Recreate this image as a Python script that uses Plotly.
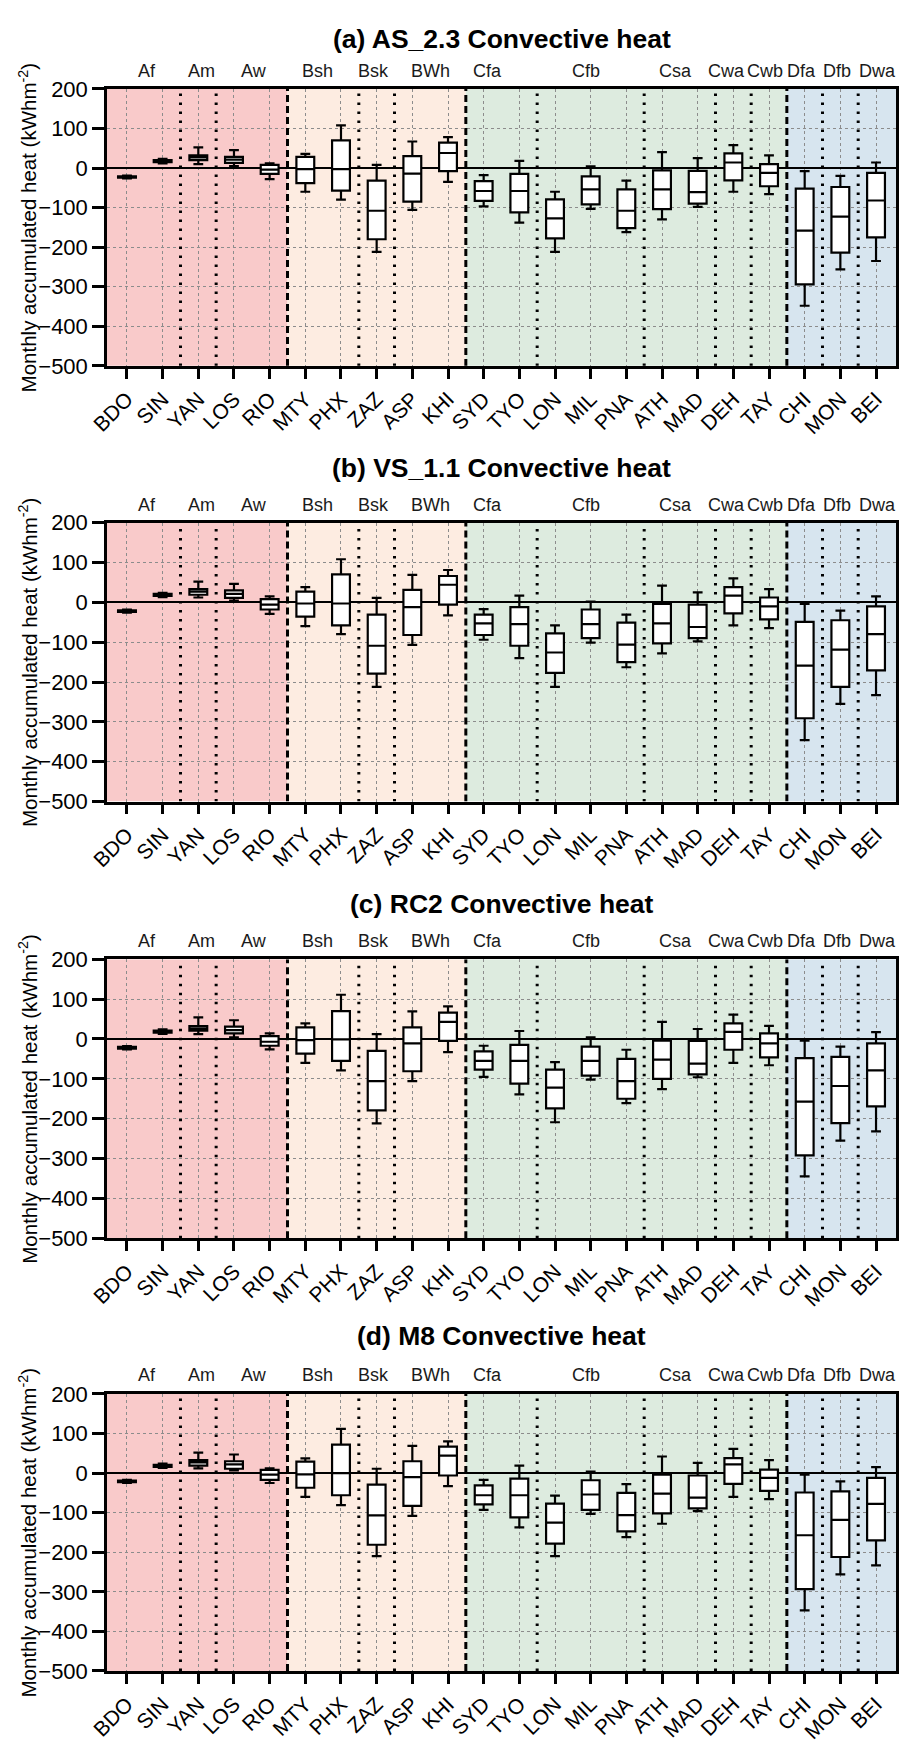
import plotly.graph_objects as go

cities = ["BDO", "SIN", "YAN", "LOS", "RIO", "MTY", "PHX", "ZAZ", "ASP", "KHI", "SYD",
          "TYO", "LON", "MIL", "PNA", "ATH", "MAD", "DEH", "TAY", "CHI", "MON", "BEI"]

panel_titles = ["(a) AS_2.3 Convective heat", "(b) VS_1.1 Convective heat",
                "(c) RC2 Convective heat", "(d) M8 Convective heat"]

climate_labels = ["Af", "Am", "Aw", "Bsh", "Bsk", "BWh", "Cfa", "Cfb", "Csa", "Cwa", "Cwb", "Dfa", "Dfb", "Dwa"]
climate_label_pos = [0.56, 2.1, 3.56, 5.33, 6.92, 8.5, 10.12, 12.87, 15.39, 16.82, 17.89, 18.92, 19.9, 21.03]

zone_bounds = [-0.56, 4.5, 9.5, 18.5, 21.56]
zone_colors = ["#F9CACA", "#FDECE1", "#DDEBDF", "#D7E5EF"]
subgroup_dividers = [1.5, 2.5, 6.5, 7.5, 11.5, 14.5, 16.5, 17.5, 19.5, 20.5]

y_ticks = [200, 100, 0, -100, -200, -300, -400, -500]
y_min, y_max = -500, 200

# ---- panel (a) AS_2.3
a_low = [-26, 12, 10, 5, -28, -60, -80, -212, -106, -35, -97, -138, -212, -103, -162, -130, -98, -60, -66, -348, -256, -235]
a_q1 = [-24, 15, 20, 13, -15, -38, -57, -180, -85, -8, -83, -112, -178, -92, -152, -104, -90, -31, -46, -294, -214, -175]
a_med = [-22, 18, 27, 21, -4, -3, -3, -108, -14, 38, -58, -58, -127, -54, -108, -54, -61, 14, -12, -158, -123, -82]
a_q3 = [-21, 20, 32, 28, 8, 28, 70, -32, 30, 64, -33, -15, -79, -21, -54, -6, -7, 37, 10, -52, -48, -12]
a_high = [-19, 23, 52, 45, 12, 36, 108, 8, 67, 78, -18, 18, -60, 4, -32, 40, 25, 58, 32, -8, -20, 14]

# ---- panel (b) VS_1.1
b_low = [-26, 13, 12, 4, -29, -60, -80, -212, -107, -33, -94, -140, -212, -101, -163, -128, -98, -58, -65, -346, -255, -233]
b_q1 = [-24, 16, 19, 11, -18, -36, -58, -179, -82, -6, -82, -109, -177, -90, -150, -103, -90, -28, -43, -291, -212, -171]
b_med = [-22, 19, 27, 21, -6, -3, -3, -109, -12, 44, -53, -55, -126, -55, -106, -53, -62, 17, -10, -159, -119, -80]
b_q3 = [-20, 21, 33, 30, 8, 27, 70, -31, 31, 66, -31, -12, -78, -18, -51, -4, -6, 38, 12, -49, -45, -10]
b_high = [-18, 24, 52, 46, 15, 38, 108, 11, 69, 81, -17, 17, -58, 2, -31, 42, 25, 60, 33, -4, -21, 15]

# ---- panel (c) RC2
c_low = [-26, 13, 12, 4, -26, -60, -79, -212, -106, -33, -95, -139, -209, -102, -161, -126, -96, -60, -66, -345, -255, -232]
c_q1 = [-24, 16, 21, 14, -17, -37, -55, -179, -81, -5, -77, -112, -174, -92, -150, -100, -89, -27, -46, -292, -211, -169]
c_med = [-22, 18, 26, 22, -7, -3, -1, -106, -11, 43, -55, -55, -122, -55, -106, -52, -62, 18, -11, -157, -118, -79]
c_q3 = [-20, 21, 32, 31, 7, 29, 70, -30, 29, 66, -31, -15, -77, -19, -50, -4, -5, 39, 14, -48, -45, -11]
c_high = [-18, 24, 54, 47, 14, 39, 111, 12, 69, 82, -17, 20, -58, 4, -27, 43, 25, 61, 33, -4, -19, 17]

# ---- panel (d) M8
d_low = [-25, 13, 12, 7, -25, -60, -81, -210, -108, -33, -93, -137, -210, -103, -162, -128, -96, -60, -66, -347, -256, -233]
d_q1 = [-23, 16, 19, 11, -17, -37, -56, -181, -83, -6, -79, -112, -178, -93, -147, -102, -89, -27, -45, -293, -212, -170]
d_med = [-21, 19, 27, 22, -4, -3, 0, -107, -10, 44, -56, -56, -125, -54, -106, -52, -62, 22, -12, -157, -118, -78]
d_q3 = [-19, 21, 33, 30, 8, 29, 72, -29, 30, 67, -31, -14, -77, -18, -50, -4, -6, 38, 9, -49, -46, -12]
d_high = [-17, 24, 52, 47, 12, 37, 112, 11, 69, 80, -17, 19, -57, 4, -28, 42, 26, 61, 33, -4, -21, 15]

panels = [
    (a_low, a_q1, a_med, a_q3, a_high),
    (b_low, b_q1, b_med, b_q3, b_high),
    (c_low, c_q1, c_med, c_q3, c_high),
    (d_low, d_q1, d_med, d_q3, d_high),
]

W, H = 901, 1750
# pixel layout of each panel: (plot top, plot bottom, title y, climate label y)
panel_px = [(78, 359, 27, 60), (518, 801, 463, 500), (961, 1244, 905, 942), (1402, 1683, 1343, 1383)]

FONT = "Liberation Sans, Arial, Helvetica, sans-serif"

fig = go.Figure()
layout = dict(
    width=W, height=H,
    margin=dict(l=107, r=5, t=0, b=0),
    paper_bgcolor="white", plot_bgcolor="white",
    showlegend=False,
    font=dict(family=FONT, color="black"),
)
shapes = []
annotations = []


def py(px):
    return 1 - px / H


for i, (low, q1, med, q3, high) in enumerate(panels):
    n = "" if i == 0 else str(i + 1)
    xa, ya = "x" + n, "y" + n
    top, bot, ty, ly = panel_px[i]
    fig.add_trace(go.Box(
        x=cities, q1=q1, median=med, q3=q3, lowerfence=low, upperfence=high,
        xaxis=xa, yaxis=ya, width=0.5, whiskerwidth=0.55,
        fillcolor="white", line=dict(color="black", width=2.2),
        boxpoints=False, hoverinfo="skip",
    ))
    layout["xaxis" + n] = dict(
        domain=[0, 1], anchor=ya, type="category",
        categoryorder="array", categoryarray=cities,
        range=[zone_bounds[0], zone_bounds[-1]],
        showline=True, mirror=True, linecolor="black", linewidth=2.5,
        ticks="outside", ticklen=10, tickwidth=2.5, tickcolor="black",
        tickangle=-45, tickfont=dict(size=21, family=FONT, color="black"),
        showgrid=True, gridcolor="#8c8c8c", gridwidth=1, griddash="dot",
        zeroline=False,
    )
    layout["yaxis" + n] = dict(
        domain=[py(bot), py(top)], anchor=xa,
        range=[y_min, y_max], tickvals=y_ticks,
        showline=True, mirror=True, linecolor="black", linewidth=2.5,
        ticks="outside", ticklen=12, tickwidth=2.5, tickcolor="black",
        tickfont=dict(size=22, family=FONT, color="black"),
        showgrid=True, gridcolor="#8c8c8c", gridwidth=1, griddash="dot",
        zeroline=True, zerolinecolor="black", zerolinewidth=2.2,
    )
    # climate zone backgrounds
    for k, col in enumerate(zone_colors):
        shapes.append(dict(type="rect", xref=xa, yref=ya,
                           x0=zone_bounds[k], x1=zone_bounds[k + 1], y0=y_min, y1=y_max,
                           fillcolor=col, line=dict(width=0), layer="below"))
    # main group dividers (dashed)
    for xb in zone_bounds[1:-1]:
        shapes.append(dict(type="line", xref=xa, yref=ya,
                           x0=xb, x1=xb, y0=y_min, y1=y_max,
                           line=dict(color="black", width=3, dash="7px,4px"), layer="above"))
    # sub-group dividers (dotted)
    for xb in subgroup_dividers:
        shapes.append(dict(type="line", xref=xa, yref=ya,
                           x0=xb, x1=xb, y0=y_min, y1=y_max,
                           line=dict(color="black", width=3, dash="2.5px,6.5px"), layer="above"))
    # climate labels
    for lab, xp in zip(climate_labels, climate_label_pos):
        annotations.append(dict(text=lab, xref=xa, yref="paper", x=xp, y=py(ly),
                                xanchor="center", yanchor="middle", showarrow=False,
                                font=dict(size=18, family=FONT, color="#1a1a1a")))
    # panel title
    annotations.append(dict(text="<b>" + panel_titles[i] + "</b>", xref=xa + " domain", yref="paper",
                            x=0.5, y=py(ty), xanchor="center", yanchor="middle", showarrow=False,
                            font=dict(size=26.5, family=FONT, color="black")))
    # y-axis title
    annotations.append(dict(text="Monthly accumulated heat (kWhm<sup>-2</sup>)",
                            xref="paper", yref="paper", x=(28 - 107) / (W - 112),
                            y=py((top + bot) / 2), xanchor="center", yanchor="middle",
                            textangle=-90, showarrow=False,
                            font=dict(size=20.5, family=FONT, color="black")))

layout["shapes"] = shapes
layout["annotations"] = annotations
fig.update_layout(**layout)
fig.write_html("out.html")
